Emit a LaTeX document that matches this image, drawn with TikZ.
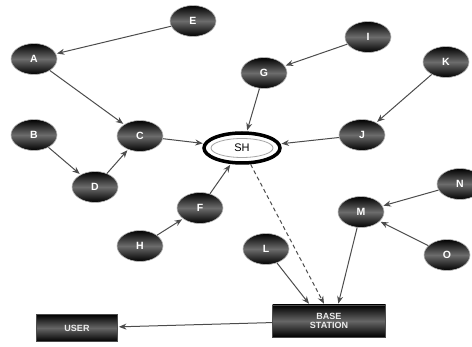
\documentclass[tikz,border=0pt]{standalone}
\usepackage{fontspec}
\setmainfont{Liberation Sans}
\usetikzlibrary{arrows.meta,calc,shapes.geometric}
\tikzset{
  nd/.style={ellipse, minimum width=46pt, minimum height=31pt, inner sep=0pt,
    draw=gray!55, line width=0.6pt,
    top color=black, bottom color=black, middle color=gray!85!black,
    text=white, font=\bfseries\fontsize{10.5}{11}\selectfont},
  bx/.style={rectangle, draw=gray!60!black, line width=0.8pt,
    top color=black, bottom color=black, middle color=gray!80!black,
    text=gray!15, font=\bfseries\fontsize{9}{9.5}\selectfont, align=center, inner sep=0pt},
  ar/.style={draw=black!70, line width=1pt, -{Stealth[length=7.5pt,width=6pt]}, shorten >=1pt}
}
\begin{document}
\begin{tikzpicture}[x=1pt,y=-1pt]
\useasboundingbox (0,0) rectangle (472,347);
\node[nd] (E) at (193,21) {E};
\node[nd] (A) at (34,59) {A};
\node[nd] (C) at (140,136) {C};
\node[nd] (B) at (34,135) {B};
\node[nd] (D) at (95,187) {D};
\node[nd] (F) at (200,208) {F};
\node[nd] (H) at (140,246) {H};
\node[nd] (G) at (264,73) {G};
\node[nd] (I) at (368,37) {I};
\node[nd] (K) at (446,62) {K};
\node[nd] (J) at (362,135) {J};
\node[nd] (N) at (460,184) {N};
\node[nd] (M) at (361,212) {M};
\node[nd] (O) at (447,255) {O};
\node[nd] (L) at (266,249) {L};
% SH
\node[ellipse, draw=black, line width=3.5pt, fill=white, minimum width=76pt, minimum height=30pt, inner sep=0pt] (SH) at (242,148) {};
\node[ellipse, draw=gray!70, line width=0.8pt, minimum width=62pt, minimum height=19pt, inner sep=0pt, font=\fontsize{11}{12}\selectfont] at (242,148) {SH};
% boxes
\node[bx, minimum width=113pt, minimum height=32pt] (BS) at (329,321) {BASE\\STATION};
\node[bx, minimum width=81pt, minimum height=27pt] (U) at (77,328) {USER};
\coordinate (bsL) at ($(BS.north west)!0.33!(BS.north east)$);
\coordinate (bsD) at ($(BS.north west)!0.46!(BS.north east)$);
\coordinate (bsM) at ($(BS.north west)!0.58!(BS.north east)$);
% edges
\draw[ar] (E) -- (A);
\draw[ar] (A) -- (C);
\draw[ar] (B) -- (D);
\draw[ar] (D) -- (C);
\draw[ar] (C) -- (SH);
\draw[ar] (H) -- (F);
\draw[ar] (F) -- (SH);
\draw[ar] (G) -- (SH);
\draw[ar] (I) -- (G);
\draw[ar] (K) -- (J);
\draw[ar] (J) -- (SH);
\draw[ar] (N) -- (M);
\draw[ar] (O) -- (M);
\draw[ar] (M) -- (bsM);
\draw[ar] (L) -- (bsL);
\draw[ar, dashed, dash pattern=on 4pt off 3pt] (SH) -- (bsD);
\draw[ar] (BS) -- (U);
\end{tikzpicture}
\end{document}
